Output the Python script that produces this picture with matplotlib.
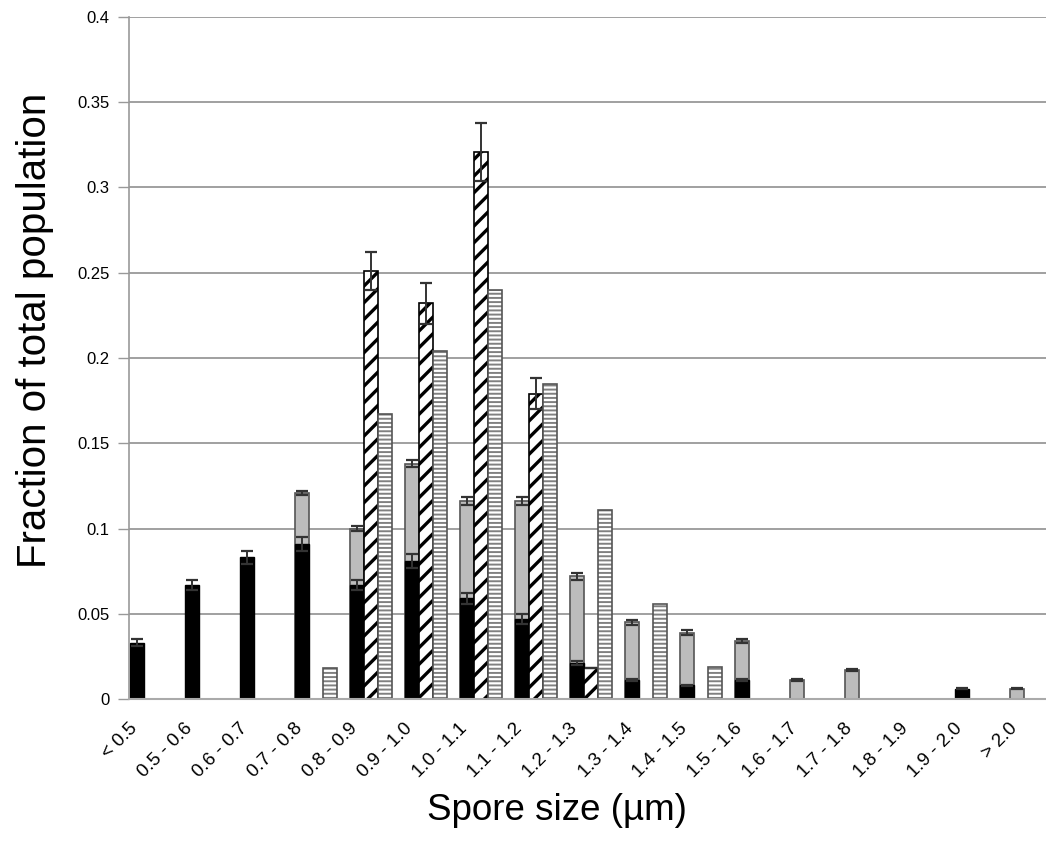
import numpy as np
import matplotlib.pyplot as plt
import matplotlib.transforms as mtransforms

plt.rcParams['font.family'] = ['Liberation Sans', 'DejaVu Sans']

# spore size classes
sizes = ['< 0.5', '0.5 - 0.6', '0.6 - 0.7', '0.7 - 0.8', '0.8 - 0.9', '0.9 - 1.0',
         '1.0 - 1.1', '1.1 - 1.2', '1.2 - 1.3', '1.3 - 1.4', '1.4 - 1.5', '1.5 - 1.6',
         '1.6 - 1.7', '1.7 - 1.8', '1.8 - 1.9', '1.9 - 2.0', '> 2.0']

# black bars (drawn in front of the grey ones)
black = [0.033, 0.067, 0.083, 0.091, 0.067, 0.081, 0.059, 0.047, 0.021, 0.011,
         0.008, 0.011, 0, 0, 0, 0.006, 0]
black_err = [0.002, 0.003, 0.004, 0.004, 0.003, 0.004, 0.003, 0.003, 0.001, 0.0005,
             0.0005, 0.0005, 0, 0, 0, 0.0003, 0]
# grey bars (same slot, behind black)
grey = [0, 0, 0, 0.121, 0.100, 0.138, 0.116, 0.116, 0.072, 0.045,
        0.039, 0.034, 0.011, 0.017, 0, 0, 0.006]
grey_err = [0, 0, 0, 0.0012, 0.0015, 0.002, 0.0025, 0.0025, 0.002, 0.0015,
            0.0015, 0.001, 0.0005, 0.0005, 0, 0, 0.0003]
# diagonal hatched bars
diag = [0, 0, 0, 0, 0.251, 0.232, 0.321, 0.179, 0.018, 0,
        0, 0, 0, 0, 0, 0, 0]
diag_err = [0, 0, 0, 0, 0.011, 0.012, 0.017, 0.009, 0, 0,
            0, 0, 0, 0, 0, 0, 0]
# horizontal hatched bars
horiz = [0, 0, 0, 0.018, 0.167, 0.204, 0.240, 0.185, 0.111, 0.056,
         0.019, 0, 0, 0, 0, 0, 0]

fig = plt.figure(figsize=(10.46, 8.46), dpi=100)
ax = fig.add_axes([129/1046, 1 - 699/846, 1 - 129/1046, (699 - 17)/846])

x = np.arange(len(sizes))
w = 14/55


def draw(vals, pos, err=None, hlw=None, **kw):
    vals = np.asarray(vals, float)
    m = vals > 0
    bars = ax.bar(pos[m], vals[m], w, zorder=2, **kw)
    if hlw is not None:
        for p in bars:
            if hasattr(p, 'set_hatch_linewidth'):
                p.set_hatch_linewidth(hlw)
    if err is not None:
        e = np.asarray(err, float)
        ax.errorbar(pos[m], vals[m], yerr=e[m], fmt='none', ecolor='#333333',
                    elinewidth=1.4, capsize=4, capthick=1.6, zorder=4)
    return bars


draw(grey, x - w, grey_err, color='#bcbcbc', edgecolor='#555555', linewidth=1.2)
draw(black, x - w, black_err, color='black', edgecolor='black', linewidth=1)
plt.rcParams['hatch.linewidth'] = 2.4
draw(diag, x, diag_err, hlw=2.4, color='white', edgecolor='black', linewidth=1.2, hatch='//')
plt.rcParams['hatch.linewidth'] = 1.4
# hatch in lighter grey, outline on top in darker grey
draw(horiz, x + w, None, hlw=1.4, color='white', edgecolor='#808080', linewidth=0, hatch='----')
draw(horiz, x + w, None, fill=False, edgecolor='#555555', linewidth=1.2)

ax.set_xlim(-0.4, 16.27)
ax.set_ylim(0, 0.4)
ax.set_yticks(np.arange(0, 0.401, 0.05))
ax.set_yticklabels(['0', '0.05', '0.1', '0.15', '0.2', '0.25', '0.3', '0.35', '0.4'])
ax.yaxis.grid(True, color='#a0a0a0', linewidth=1.4)
ax.set_axisbelow(True)
ax.tick_params(axis='y', length=8, width=1, color='#999999', labelsize=12, pad=6)

ax.set_xticks(x)
ax.set_xticklabels(sizes, rotation=45, ha='right', rotation_mode='anchor')
ax.tick_params(axis='x', length=0, labelsize=13.5, pad=15)
shift = mtransforms.ScaledTranslation(-0.22, 0, fig.dpi_scale_trans)
for lab in ax.get_xticklabels():
    lab.set_transform(lab.get_transform() + shift)

for s in ['top', 'right']:
    ax.spines[s].set_visible(False)
ax.spines['left'].set_color('#999999')
ax.spines['bottom'].set_color('#aaaaaa')
ax.spines['left'].set_linewidth(1.2)
ax.spines['bottom'].set_linewidth(1.5)

fig.text(35/1046, 1 - 330/846, 'Fraction of total population', rotation=90,
         ha='center', va='center', fontsize=29)
fig.text(557/1046, 1 - 810/846, 'Spore size (µm)', ha='center', va='center', fontsize=26.5)

fig.savefig('out.png', dpi=100)
